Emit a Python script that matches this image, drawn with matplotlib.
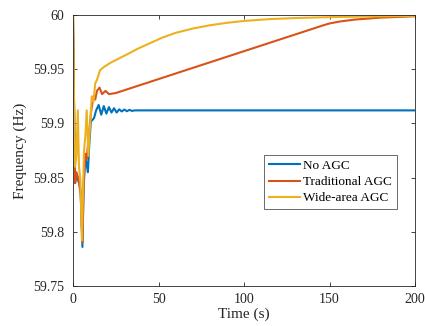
import matplotlib
matplotlib.use("Agg")
import matplotlib.pyplot as plt

plt.rcParams['font.family'] = ['Liberation Serif', 'DejaVu Serif']
plt.rcParams['mathtext.fontset'] = 'stix'

# Data
t_no = [0, 0.5, 1.2, 2, 3, 4, 4.5, 5.5, 6.2, 7.2, 8, 8.7, 9.5, 10.4, 11.3, 12.3, 13.5, 15,
        16.5, 18, 19.5, 21, 22.5, 24, 25.5, 27, 28.5, 30, 31.5, 33, 34.5, 36, 40, 50, 200]
f_no = [60, 59.93, 59.845, 59.852, 59.848, 59.842, 59.835, 59.786, 59.84, 59.870, 59.862,
        59.855, 59.88, 59.902, 59.903, 59.905, 59.912, 59.917, 59.908, 59.916, 59.909, 59.915,
        59.910, 59.914, 59.910, 59.913, 59.911, 59.9128, 59.9112, 59.9125, 59.9115, 59.912,
        59.912, 59.912, 59.912]

t_trad = [0, 0.5, 1.2, 2, 3, 4, 4.5, 5.5, 6.2, 7.2, 8, 9, 10.5, 12, 13, 14, 15.5, 17, 19,
          21, 25, 146, 150, 156, 165, 180, 200]
f_trad = [60, 59.93, 59.845, 59.855, 59.85, 59.84, 59.835, 59.79, 59.845, 59.872, 59.867,
          59.885, 59.91, 59.925, 59.922, 59.93, 59.933, 59.927, 59.93, 59.927, 59.928,
          59.9903, 59.9922, 59.994, 59.9958, 59.9976, 59.9988]

t_wide = [0, 0.5, 1.2, 2, 2.8, 3.5, 4.3, 5.2, 6.4, 7.3, 8, 9, 10, 11, 12, 13, 14, 15.8, 18,
          22, 27, 32, 38, 45, 52, 60, 70, 80, 90, 100, 115, 130, 150, 175, 200]
f_wide = [60, 59.93, 59.86, 59.87, 59.912, 59.86, 59.848, 59.792, 59.874, 59.89, 59.912,
          59.87, 59.9, 59.925, 59.92, 59.937, 59.94, 59.949, 59.952, 59.956, 59.96, 59.964,
          59.969, 59.974, 59.979, 59.9835, 59.9875, 59.9905, 59.9928, 59.9945, 59.9962,
          59.9972, 59.998, 59.9987, 59.9992]

labels = ['No AGC', 'Traditional AGC', 'Wide-area AGC']
colors = ['#0072BD', '#D95319', '#EDB120']
xticks = [0, 50, 100, 150, 200]
yticks = [59.75, 59.8, 59.85, 59.9, 59.95, 60]
yticklabels = ['59.75', '59.8', '59.85', '59.9', '59.95', '60']

fig = plt.figure(figsize=(4.25, 3.26), dpi=100)
ax = fig.add_axes([0.1718, 0.1227, 0.8047, 0.8313])

for t, f, lab, c in zip([t_no, t_trad, t_wide], [f_no, f_trad, f_wide], labels, colors):
    ax.plot(t, f, color=c, lw=1.5, label=lab)

ax.set_xlim(0, 200)
ax.set_ylim(59.75, 60)
ax.set_xticks(xticks)
ax.set_yticks(yticks)
ax.set_yticklabels(yticklabels)
ax.tick_params(direction='in', length=3, width=0.6, labelsize=10, colors='#262626',
               top=True, right=True)
ax.tick_params(axis='x', pad=5)
ax.tick_params(axis='y', pad=6.5)
for s in ax.spines.values():
    s.set_linewidth(0.6)
    s.set_color('#262626')
ax.set_xlabel('Time (s)', fontsize=11, color='#262626', labelpad=1)
ax.set_ylabel('Frequency (Hz)', fontsize=11, color='#262626', labelpad=4)

leg = ax.legend(loc='upper left', bbox_to_anchor=(0.5585, 0.483), fontsize=9.5,
                frameon=True, fancybox=False, handlelength=2.35, handletextpad=0.28,
                borderpad=0.35, labelspacing=0.3, borderaxespad=0)
leg.get_frame().set_edgecolor('#262626')
leg.get_frame().set_linewidth(0.6)

fig.savefig('out.png', dpi=100)
